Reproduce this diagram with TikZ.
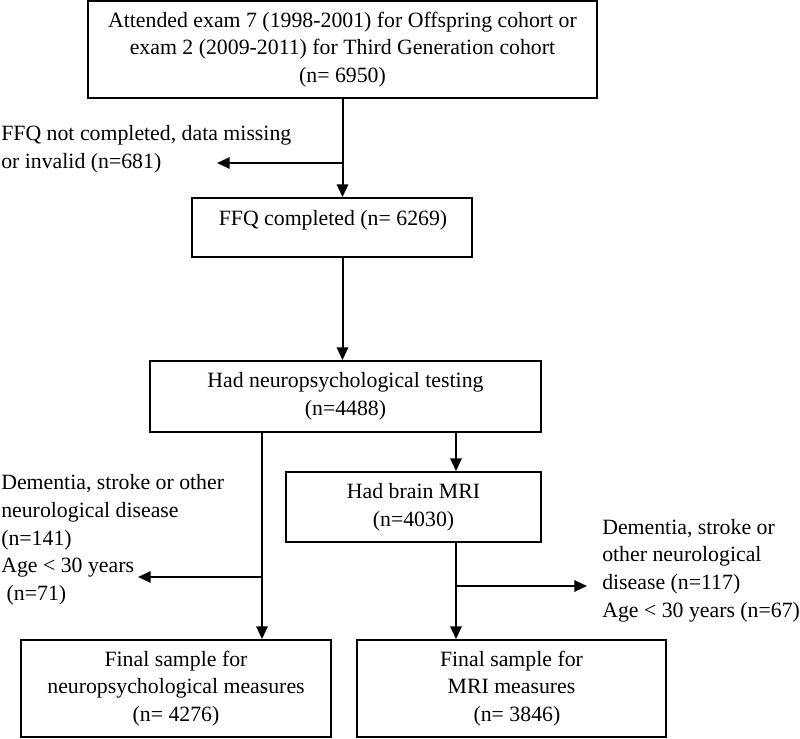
\documentclass[tikz,border=0pt]{standalone}
\usepackage{fontspec}
\setmainfont{Liberation Serif}
\usetikzlibrary{arrows.meta}
\begin{document}
\begin{tikzpicture}[x=0.75pt,y=-0.75pt,
  txt/.style={font=\fontsize{16.35}{20.8}\selectfont},
  box/.style={draw, line width=1.4pt, inner sep=0pt, align=center, txt},
  lbl/.style={inner sep=0pt, align=left, anchor=west, txt},
  arr/.style={line width=1.5pt, -{Triangle[length=9.5pt,width=8.5pt]}}]
\useasboundingbox (0,0) rectangle (800,739);
% boxes
\node[box, minimum width={509*0.75pt}, minimum height={97*0.75pt}] (b1) at (342.5,49.5)
  {Attended exam 7 (1998-2001) for Offspring cohort or\\exam 2 (2009-2011) for Third Generation cohort\\(n= 6950)};
\node[box, minimum width={280*0.75pt}, minimum height={59*0.75pt}] (b2) at (332,227.5) {};
\node[inner sep=0pt, txt] (b2t) at (333,220) {FFQ completed (n= 6269)};
\node[box, minimum width={391*0.75pt}, minimum height={71*0.75pt}] (b3) at (345.5,396.5)
  {Had neuropsychological testing\\(n=4488)};
\node[box, minimum width={255*0.75pt}, minimum height={70*0.75pt}] (b4) at (413.5,507)
  {Had brain MRI\\(n=4030)};
\node[box, minimum width={310*0.75pt}, minimum height={97*0.75pt}] (b5) at (176,688.5)
  {Final sample for\\neuropsychological measures\\(n= 4276)};
\node[box, minimum width={309*0.75pt}, minimum height={97*0.75pt}] (b6) at (511.5,688.5)
  {Final sample for\\MRI measures\\\hspace*{0.5em}(n= 3846)};
% side labels
\node[lbl] (l1) at (1,149) {FFQ not completed, data missing\\or invalid (n=681)};
\node[lbl] (l2) at (1,540) {Dementia, stroke or other\\neurological disease\\(n=141)\\Age < 30 years\\\hspace*{0.25em}(n=71)};
\node[lbl] (l3) at (602,570.5) {Dementia, stroke or\\other neurological\\disease (n=117)\\Age < 30 years (n=67)};
% junctions and free ends
\coordinate (j1) at (342.5,163);
\coordinate (t1) at (217,163);
\coordinate (j2) at (262,577);
\coordinate (t2) at (138,577);
\coordinate (j3) at (456,586);
\coordinate (t3) at (587,586);
% connectors
\draw[arr] (b1.south -| j1) -- (b2.north -| j1);
\draw[arr] (j1) -- (t1);
\draw[arr] (b2.south -| j1) -- (b3.north -| j1);
\draw[arr] (b3.south -| j2) -- (b5.north -| j2);
\draw[arr] (j2) -- (t2);
\draw[arr] (b3.south -| j3) -- (b4.north -| j3);
\draw[arr] (b4.south -| j3) -- (b6.north -| j3);
\draw[arr] (j3) -- (t3);
\end{tikzpicture}
\end{document}
